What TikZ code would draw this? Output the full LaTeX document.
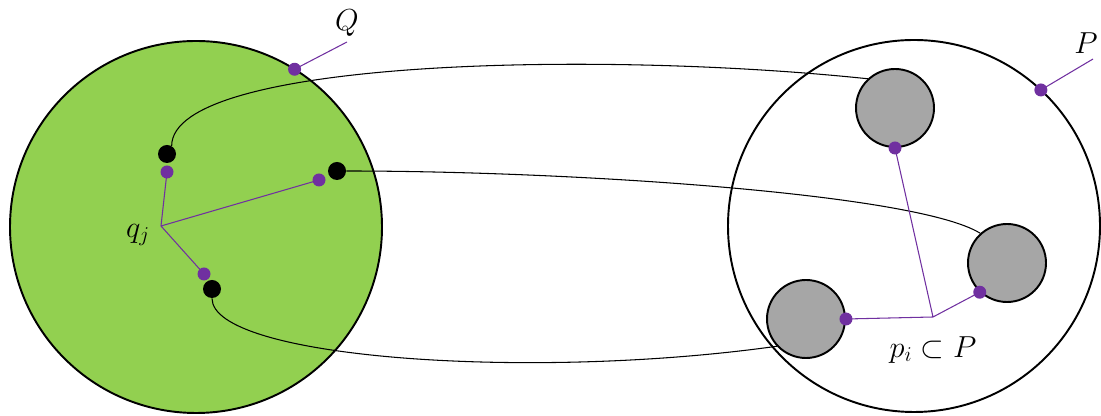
\documentclass[tikz,border=0pt]{standalone}
\usetikzlibrary{positioning}
\definecolor{leafgreen}{HTML}{92D050}
\definecolor{dotpurple}{HTML}{7030A0}
\definecolor{blobgray}{HTML}{A6A6A6}
\tikzset{
  bigset/.style={circle, draw, line width=1.1pt, minimum size=7.44cm, inner sep=0pt, outer sep=0pt},
  blob/.style={circle, draw, line width=1.1pt, fill=blobgray, minimum size=1.56cm, inner sep=0pt},
  bdot/.style={circle, fill=black, minimum size=0.36cm, inner sep=0pt},
  pdot/.style={circle, fill=dotpurple, minimum size=0.26cm, inner sep=0pt},
  link/.style={line width=0.6pt},
  plink/.style={dotpurple, line width=0.6pt},
  lbl/.style={font=\fontsize{18}{21}\selectfont, inner sep=1pt}
}
\begin{document}
\begin{tikzpicture}
  \useasboundingbox (0,0) rectangle (22.02,8.32);
  % the two sets
  \node[bigset, fill=leafgreen] (gq) at (3.92,3.78) {};
  \node[bigset] (gp) at (18.28,3.80) {};
  % points of Q
  \node[bdot] (bq1) at (3.34,5.24) {};
  \node[bdot] (bq2) at (6.74,4.90) {};
  \node[bdot] (bq3) at (4.24,2.54) {};
  % parts of P
  \node[blob] (gp1) at (17.90,6.16) {};
  \node[blob] (gp2) at (20.14,3.06) {};
  \node[blob] (gp3) at (16.12,1.94) {};
  % links
  \draw[link] (bq1.60) to[out=90, in=174, out distance=1.72cm, in distance=5.5cm] (gp1.133);
  \draw[link] (bq2.east) to[out=0, in=148, out distance=4.5cm, in distance=1.5cm] (gp2.132);
  \draw[link] (bq3.south) to[out=-90, in=188, out distance=1.2cm, in distance=5cm] (gp3.223);
  % q_j
  \coordinate (qj) at (3.22,3.80);
  \draw[plink] (qj) -- (3.34,4.88) (qj) -- (6.38,4.72) (qj) -- (4.08,2.84);
  \node[pdot] (pq1) at (3.34,4.88) {};
  \node[pdot] (pq2) at (6.38,4.72) {};
  \node[pdot] (pq3) at (4.08,2.84) {};
  \node[lbl] (qjlab) at (2.76,3.62) {$q_j$};
  % p_i
  \coordinate (pj) at (18.66,1.98);
  \draw[plink] (pj) -- (gp1.south) (pj) -- (gp2.227) (pj) -- (gp3.east);
  \node[pdot] (pp1) at (gp1.south) {};
  \node[pdot] (pp2) at (gp2.227) {};
  \node[pdot] (pp3) at (gp3.east) {};
  \node[lbl, below=10pt of pj] (pilab) {$p_i \subset P$};
  % Q and P
  \coordinate (qend) at (6.94,7.48);
  \draw[plink] (gq.58.6) -- (qend);
  \node[pdot] (qd) at (gq.58.6) {};
  \node[lbl, above=2pt of qend] (qlab) {$Q$};
  \coordinate (pend) at (21.86,7.14);
  \draw[plink] (gp.47) -- (pend);
  \node[pdot] (pd) at (gp.47) {};
  \node[lbl, above=2pt of pend, xshift=-4pt] (plab) {$P$};
\end{tikzpicture}
\end{document}
